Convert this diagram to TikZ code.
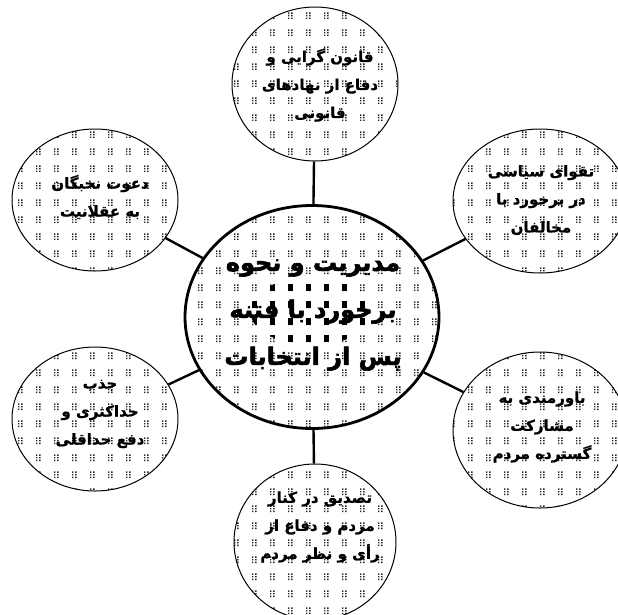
\documentclass[tikz,border=0pt]{standalone}
\usepackage{fontspec}
\TeXXeTstate=1
\newfontfamily\arabicfont[Script=Arabic,BoldFeatures={FakeBold=1}]{DejaVu Sans}
\newfontfamily\arabicheavy[Script=Arabic,BoldFeatures={FakeBold=2.5}]{DejaVu Sans}
\usetikzlibrary{shapes.geometric,patterns}

\pgfdeclarepatternformonly{dotgrid}{\pgfqpoint{-1pt}{-1pt}}{\pgfqpoint{18pt}{17pt}}{\pgfqpoint{18pt}{17pt}}{%
  \pgfpathrectangle{\pgfqpoint{0pt}{0pt}}{\pgfqpoint{1.4pt}{1.4pt}}%
  \pgfpathrectangle{\pgfqpoint{3.2pt}{0pt}}{\pgfqpoint{1.4pt}{1.4pt}}%
  \pgfpathrectangle{\pgfqpoint{0pt}{2.6pt}}{\pgfqpoint{1.4pt}{1.4pt}}%
  \pgfpathrectangle{\pgfqpoint{3.2pt}{2.6pt}}{\pgfqpoint{1.4pt}{1.4pt}}%
  \pgfpathrectangle{\pgfqpoint{0pt}{5.2pt}}{\pgfqpoint{1.4pt}{1.4pt}}%
  \pgfpathrectangle{\pgfqpoint{3.2pt}{5.2pt}}{\pgfqpoint{1.4pt}{1.4pt}}%
  \pgfusepath{fill}}

\pgfdeclarepatternformonly{bigsq}{\pgfqpoint{-1pt}{-1pt}}{\pgfqpoint{18pt}{17pt}}{\pgfqpoint{18pt}{17pt}}{%
  \pgfpathrectangle{\pgfqpoint{-0.5pt}{-0.3pt}}{\pgfqpoint{5.8pt}{7.2pt}}%
  \pgfusepath{fill}}

\newcommand{\rl}[1]{\beginR #1\endR}

\tikzset{
  sat/.style={ellipse, draw=black, line width=1pt, pattern=dotgrid, pattern color=black!85, inner sep=0pt},
  hub/.style={ellipse, draw=black, line width=2.8pt, pattern=dotgrid, pattern color=black!85, inner sep=0pt},
  conn/.style={draw=black, line width=2.4pt},
  smalltxt/.style={align=center, inner sep=0pt, font=\arabicfont\bfseries\fontsize{15}{28}\selectfont},
  bigtxt/.style={align=center, inner sep=0pt, font=\arabicheavy\bfseries\fontsize{24}{47}\selectfont}
}

\begin{document}
\begin{tikzpicture}[x=1pt,y=-1pt]
\useasboundingbox (0,0) rectangle (618,614);
\clip (0,0) rectangle (618,614);
\fill[white] (0,0) rectangle (618,614);

% hub
\node[hub, minimum width=254pt, minimum height=223pt] (c) at (312,317) {};
\begin{scope}
  \clip (312,311) ellipse [x radius=62pt, y radius=34pt];
  \fill[pattern=bigsq, pattern color=black] (240,270) rectangle (390,350);
\end{scope}

% satellites
\node[sat, minimum width=166pt, minimum height=154pt] (t)  at (315,84)  {};
\node[sat, minimum width=166pt, minimum height=142pt] (ul) at (95,200)  {};
\node[sat, minimum width=174pt, minimum height=144pt] (ur) at (540,201) {};
\node[sat, minimum width=166pt, minimum height=144pt] (ll) at (95,419)  {};
\node[sat, minimum width=174pt, minimum height=156pt] (lr) at (540,430) {};
\node[sat, minimum width=162pt, minimum height=156pt] (b)  at (315,542) {};

% connectors
\draw[conn] (c) -- (t);
\draw[conn] (c) -- (b);
\draw[conn] (c) -- (ul);
\draw[conn] (c) -- (ur);
\draw[conn] (c) -- (ll);
\draw[conn] (c) -- (lr);

% texts
\node[bigtxt] (ctxt) at (313,315) {\rl{مدیریت و نحوه}\\\rl{برخورد با فتنه}\\\rl{پس از انتخابات}};
\node[smalltxt] (ttxt) at (320,85) {\rl{قانون گرایی و}\\\rl{دفاع از نهادهای}\\\rl{قانونی}};
\node[smalltxt] (ultxt) at (100,197) {\rl{دعوت نخبگان}\\\rl{به عقلانیت}};
\node[smalltxt] (urtxt) at (541,200) {\rl{تقوای سیاسی}\\\rl{در برخورد با}\\\rl{مخالفان}};
\node[smalltxt] (lltxt) at (100,414) {\rl{جذب}\\\rl{حداکثری و}\\\rl{دفع حداقلی}};
\node[smalltxt] (lrtxt) at (542,427) {\rl{باورمندی به}\\\rl{مشارکت}\\\rl{گسترده مردم}};
\node[smalltxt] (btxt) at (320,527) {\rl{تصدیق در کنار}\\\rl{مردم و دفاع از}\\\rl{رأی و نظر مردم}};
\end{tikzpicture}
\end{document}
